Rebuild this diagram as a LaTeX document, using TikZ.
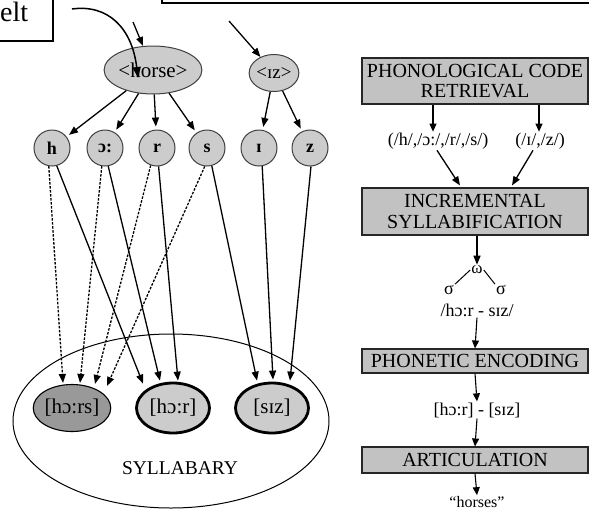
\documentclass[tikz,border=0pt]{standalone}
\usepackage{fontspec}
\setmainfont{Liberation Serif}
\usetikzlibrary{shapes.geometric,arrows.meta}
\definecolor{nodegray}{gray}{0.80}
\definecolor{darkfill}{gray}{0.60}
\definecolor{boxgray}{gray}{0.76}
\begin{document}
\begin{tikzpicture}[x=1pt,y=-1pt,
  arr/.style={-{Triangle[length=9pt,width=7pt]}, line width=1.3pt},
  rarr/.style={-{Triangle[length=8pt,width=7pt]}, line width=1.1pt},
  dsh/.style={dash pattern=on 2.5pt off 1.5pt},
  seg/.style={circle, draw=black!75, line width=1pt, fill=nodegray, minimum size=36pt, inner sep=0pt, font=\fontsize{18}{18}\selectfont\bfseries},
  lem/.style={ellipse, draw=black!75, fill=nodegray, line width=1pt, inner sep=0pt},
  syl/.style={ellipse, draw=black, fill=nodegray, line width=2.8pt, minimum width=73pt, minimum height=50pt, inner sep=0pt, font=\fontsize{21}{21}\selectfont},
  stage/.style={rectangle, draw=black!85, line width=1.1pt, fill=boxgray, minimum width=226pt, align=center, inner sep=0pt, font=\fontsize{20}{20.5}\selectfont},
  lbl/.style={inner sep=1pt, font=\fontsize{18}{18}\selectfont}]
\useasboundingbox (0,0) rectangle (589,512);
\clip (0,0) rectangle (589,512);

% partial boxes at the top
\draw[line width=1.2pt] (-20,-20) rectangle (53,41);
\node[anchor=base west, inner sep=0pt, font=\fontsize{28}{28}\selectfont] (elt) at (0,21) {elt};
\draw[line width=1.4pt] (162,-20) rectangle (620,3);

% lemma nodes
\node[lem, minimum width=74pt, minimum height=48pt, font=\fontsize{21}{21}\selectfont] (horse) at (153,70) {\textless horse\textgreater};
\node[lem, minimum width=45pt, minimum height=37pt, font=\fontsize{19}{19}\selectfont] (iz) at (274,73) {\textless ɪz\textgreater};

\coordinate (horsein) at (133,22);
\coordinate (izin) at (229,21);
\draw[arr] (horsein) -- (horse);
\draw[arr] (izin) -- (iz.130);

% segments
\node[seg] (h) at (52,148) {h};
\node[seg] (o) at (105,148) {ɔ:};
\node[seg] (r) at (157,148) {r};
\node[seg] (s) at (207,148) {s};
\node[seg] (i) at (259,148) {ɪ};
\node[seg] (z) at (310,148) {z};

\foreach \t in {h,o,r,s} \draw[arr, shorten >=3pt] (horse) -- (\t);
\foreach \t in {i,z} \draw[arr, shorten >=3pt] (iz) -- (\t);

% syllabary
\node[ellipse, draw, line width=1pt, minimum width=316pt, minimum height=174pt, inner sep=0pt] (sylb) at (171,421) {};
\node[font=\fontsize{19.5}{19.5}\selectfont] (sylbl) at (180,468) {SYLLABARY};
\node[syl, fill=darkfill, line width=1.1pt, minimum width=75pt, minimum height=47pt] (hors) at (72,408) {[hɔ:rs]};
\node[syl] (hor) at (173,408) {[hɔ:r]};
\node[syl] (siz) at (272,408) {[sɪz]};

% dashed connections to [ho:rs]
\draw[arr, dsh] (h.-100) -- ([xshift=-9pt,yshift=1pt]hors.north);
\draw[arr, dsh] (o.-100) -- ([xshift=8pt,yshift=1pt]hors.north);
\draw[arr, dsh] (r.-110) -- ([xshift=23pt,yshift=0pt]hors.north);
\draw[arr, dsh] (s.-97) -- ([xshift=35pt,yshift=-2pt]hors.north);
% solid connections
\draw[arr] (h.-75) -- ([xshift=-30pt,yshift=-2pt]hor.north);
\draw[arr] (o.-80) -- ([xshift=-13pt,yshift=1pt]hor.north);
\draw[arr] (r.-85) -- ([xshift=5pt,yshift=1pt]hor.north);
\draw[arr] (s.-75) -- ([xshift=-15pt,yshift=1pt]siz.north);
\draw[arr] (i.-80) -- ([xshift=1pt,yshift=2pt]siz.north);
\draw[arr] (z.-87) -- ([xshift=18pt,yshift=1pt]siz.north);

% curved arrow from the box
\coordinate (cstart) at (72,9);
\draw[line width=1.5pt, -{Triangle[length=11pt,width=8pt]}] (cstart) .. controls (108,4) and (132,28) .. ([xshift=-15pt,yshift=-8pt]horse.center);

% right-hand stages
\node[stage, minimum height=46pt] (pcr) at (475,81) {PHONOLOGICAL CODE\\RETRIEVAL};
\node[stage, minimum height=47pt] (isy) at (475,211.5) {INCREMENTAL\\SYLLABIFICATION};
\node[stage, minimum height=24pt] (pe) at (475,361) {PHONETIC ENCODING};
\node[stage, minimum height=26pt] (art) at (475,460) {ARTICULATION};

\node[lbl] (seg1) at (438,141) {(/h/,/ɔ:/,/r/,/s/)};
\node[lbl] (seg2) at (540,141) {(/ɪ/,/z/)};
\draw[rarr] ([xshift=-42pt]pcr.south) -- ([xshift=-5pt]seg1.north);
\draw[rarr] ([xshift=64pt]pcr.south) -- ([xshift=-1pt]seg2.north);
\draw[arr] ([xshift=-1pt]seg1.south) -- ([xshift=-15pt,yshift=2pt]isy.north);
\draw[arr] ([xshift=-7pt]seg2.south) -- ([xshift=37pt,yshift=2pt]isy.north);

\node[lbl, font=\fontsize{17}{17}\selectfont] (omega) at (477,270) {ω};
\node[lbl, font=\fontsize{18}{18}\selectfont] (sig1) at (449,290) {σ};
\node[lbl, font=\fontsize{18}{18}\selectfont] (sig2) at (501,290) {σ};
\draw[arr] ([xshift=2pt]isy.south) -- (omega.north);
\draw[line width=1pt] (omega.west) -- (sig1.north east);
\draw[line width=1pt] (omega.east) -- (sig2.north west);

\node[lbl] (pw) at (477,310) {/hɔ:r - sɪz/};
\draw[rarr] (pw.south) -- (pe.north);
\node[lbl] (ph) at (477,410) {[hɔ:r] - [sɪz]};
\draw[rarr] (pe.south) -- (ph.north);
\draw[rarr] (ph.south) -- (art.north);
\node[lbl, font=\fontsize{16}{16}\selectfont] (out) at (477,502) {“horses”};
\draw[rarr] (art.south) -- (out.north);
\end{tikzpicture}
\end{document}
